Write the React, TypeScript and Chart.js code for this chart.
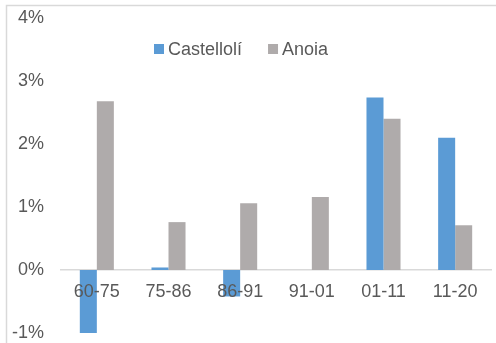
import React, { useEffect, useRef } from "react";
import { Chart, registerables } from "chart.js";

Chart.register(...registerables);

const categories = ["60-75", "75-86", "86-91", "91-01", "01-11", "11-20"];
const castelloliValues = [-1.03, 0.04, -0.42, 0, 2.74, 2.1];
const anoiaValues = [2.68, 0.76, 1.06, 1.16, 2.4, 0.71];
const seriesNames = ["Castellolí", "Anoia"];
const seriesColors = ["#5B9BD5", "#AFABAB"];
const yMin = -1;
const yMax = 4;

const FONT = "'Liberation Sans', Arial, sans-serif";
const TEXT = "#595959";

const framePlugin = {
  id: "frame",
  beforeDraw(chart: any) {
    const ctx = chart.ctx;
    ctx.save();
    ctx.strokeStyle = "#D9D9D9";
    ctx.lineWidth = 1.5;
    ctx.beginPath();
    ctx.moveTo(6.5, chart.height);
    ctx.lineTo(6.5, 5.5);
    ctx.lineTo(chart.width, 5.5);
    ctx.stroke();
    ctx.restore();
  },
};

const legendPlugin = {
  id: "customLegend",
  afterDraw(chart: any) {
    const ctx = chart.ctx;
    ctx.save();
    ctx.font = `18px ${FONT}`;
    ctx.textBaseline = "middle";
    ctx.textAlign = "left";
    let x = 154;
    const y = 49;
    chart.data.datasets.forEach((ds: any) => {
      ctx.fillStyle = ds.backgroundColor;
      ctx.fillRect(x, y - 5, 10, 10);
      ctx.fillStyle = TEXT;
      ctx.fillText(ds.label, x + 14, y + 1);
      x += 14 + ctx.measureText(ds.label).width + 26;
    });
    ctx.restore();
  },
};

export default function App() {
  const ref = useRef<HTMLCanvasElement>(null);
  useEffect(() => {
    if (!ref.current) return;
    const chart = new Chart(ref.current, {
      type: "bar",
      data: {
        labels: categories,
        datasets: [
          {
            label: seriesNames[0],
            data: castelloliValues,
            backgroundColor: seriesColors[0],
            categoryPercentage: 0.475,
            barPercentage: 1,
          },
          {
            label: seriesNames[1],
            data: anoiaValues,
            backgroundColor: seriesColors[1],
            categoryPercentage: 0.475,
            barPercentage: 1,
          },
        ],
      },
      options: {
        animation: false,
        responsive: false,
        layout: { padding: { top: 18, bottom: 10, right: 5, left: 0 } },
        plugins: {
          legend: { display: false },
          tooltip: { enabled: false },
        },
        scales: {
          x: {
            position: { y: 0 } as any,
            grid: { display: false, drawTicks: false },
            border: { display: true, color: "#D9D9D9", width: 1.5 },
            ticks: { color: TEXT, font: { size: 18, family: FONT }, padding: 11, z: 1 } as any,
          },
          y: {
            min: yMin,
            max: yMax,
            grid: { display: false, drawTicks: false },
            border: { display: false },
            ticks: {
              stepSize: 1,
              color: TEXT,
              font: { size: 18, family: FONT },
              padding: 17,
              callback: (v: any) => `${v}%`,
            },
            afterFit(scale: any) {
              scale.width = 61;
              scale.paddingTop = 0;
              scale.paddingBottom = 0;
            },
          },
        },
      },
      plugins: [framePlugin, legendPlugin],
    });
    return () => chart.destroy();
  }, []);
  return (
    <div style={{ position: "absolute", left: 0, top: 0, width: 496, height: 343, background: "#fff" }}>
      <canvas ref={ref} width={496} height={343} style={{ display: "block" }} />
    </div>
  );
}
